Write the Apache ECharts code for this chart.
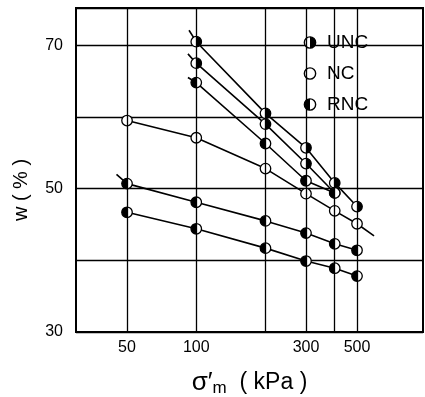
<!DOCTYPE html>
<html>
<head>
<meta charset="utf-8">
<script src="https://cdn.jsdelivr.net/npm/echarts@6/dist/echarts.min.js"></script>
<style>
  html, body { margin: 0; padding: 0; background: #fff; }
  #chart { width: 425px; height: 397px; }
</style>
</head>
<body>
<div id="chart"></div>
<script>
// confining pressure (kPa)
const pressures = [50, 100, 200, 300, 400, 500]
// water content w (%) for each curve, null = no point
const unc1 = [null, 70.5, 60.5, 55.7, 50.8, 47.5]
const unc2 = [null, 67.5, 59.0, 53.5, 49.4, null]
const rnc1 = [null, 64.8, 56.3, 51.1, 49.4, null]
const nc = [59.5, 57.1, 52.8, 49.3, 46.9, 45.1]
const rnc2 = [50.7, 48.1, 45.5, 43.8, 42.3, 41.4]
const rnc3 = [46.7, 44.4, 41.7, 39.9, 38.9, 37.8]
// short line ends without a marker
const unc1Lead = [93, 72.1]
const unc2Lead = [92, 68.8]
const rnc1Lead = [92, 65.5]
const rnc2Lead = [45, 52.0]
const ncTail = [593, 43.4]

const gridX = [50, 100, 200, 300, 400, 500]
const xLabels = ['50', '100', '300', '500']
const yLabels = [30, 50, 70]

function marker(side) {
  let half = ''
  if (side === 'right') half = "<path d='M13 2.5 A10.5 10.5 0 0 1 13 23.5 Z' fill='black'/>"
  if (side === 'left') half = "<path d='M13 2.5 A10.5 10.5 0 0 0 13 23.5 Z' fill='black'/>"
  const svg = "<svg xmlns='http://www.w3.org/2000/svg' width='26' height='26' viewBox='0 0 26 26'>" +
    "<circle cx='13' cy='13' r='10.5' fill='white' stroke='black' stroke-width='2.6'/>" + half + '</svg>'
  return 'image://data:image/svg+xml;charset=utf-8,' + encodeURIComponent(svg)
}

const icons = { UNC: marker('right'), NC: marker('none'), RNC: marker('left') }

function buildData(values, lead, tail) {
  const data = []
  if (lead) data.push({ value: lead, symbol: 'none' })
  values.forEach((v, i) => { if (v != null) data.push([pressures[i], v]) })
  if (tail) data.push({ value: tail, symbol: 'none' })
  return data
}

function lineSeries(name, values, lead, tail) {
  return {
    name: name,
    type: 'line',
    data: buildData(values, lead, tail),
    symbol: icons[name],
    symbolSize: 13,
    showSymbol: true,
    color: '#000',
    lineStyle: { color: '#000', width: 1.6 },
    z: 3
  }
}

const series = [
  lineSeries('UNC', unc1, unc1Lead),
  lineSeries('UNC', unc2, unc2Lead),
  lineSeries('RNC', rnc1, rnc1Lead),
  lineSeries('NC', nc, null, ncTail),
  lineSeries('RNC', rnc2, rnc2Lead),
  lineSeries('RNC', rnc3)
]

// vertical grid lines with the x tick labels under them
series[5].markLine = {
  silent: true,
  symbol: 'none',
  animation: false,
  lineStyle: { color: '#000', width: 1.3, type: 'solid' },
  label: {
    position: 'start',
    distance: 8,
    color: '#000',
    fontSize: 16,
    fontFamily: 'Liberation Sans',
    formatter: p => (xLabels.includes(String(p.value)) ? String(p.value) : '')
  },
  data: gridX.map(x => ({ xAxis: x }))
}

const chart = echarts.init(document.getElementById('chart'))
chart.setOption({
  animation: false,
  backgroundColor: '#fff',
  grid: {
    left: 76, right: 2, top: 8, bottom: 65,
    outerBoundsMode: 'none',
    containLabel: false,
    show: true, borderColor: '#000', borderWidth: 2, backgroundColor: 'transparent'
  },
  legend: {
    orient: 'vertical',
    left: 298,
    top: 28,
    itemWidth: 14,
    itemHeight: 14,
    itemGap: 12,
    textStyle: { fontSize: 19, color: '#000', fontFamily: 'Liberation Sans', padding: [0, 0, 0, 5] },
    data: ['UNC', 'NC', 'RNC'].map(n => ({ name: n, icon: icons[n] }))
  },
  xAxis: {
    type: 'log',
    logBase: 10,
    min: 30,
    max: 968,
    axisLine: { show: true, lineStyle: { color: '#000', width: 2 } },
    axisTick: { show: false },
    axisLabel: { show: false },
    splitLine: { show: false },
    name: '{s|σ′}{m|m}{n|  ( kPa )}',
    nameLocation: 'middle',
    nameGap: 36,
    nameTextStyle: {
      rich: {
        s: { fontSize: 26, color: '#000', fontFamily: 'Liberation Sans' },
        m: { fontSize: 17, color: '#000', fontFamily: 'Liberation Sans', padding: [12, 0, 0, 0] },
        n: { fontSize: 23, color: '#000', fontFamily: 'Liberation Sans' }
      }
    }
  },
  yAxis: {
    type: 'value',
    min: 30,
    max: 75.2,
    interval: 10,
    axisLine: { show: true, lineStyle: { color: '#000', width: 2 } },
    axisTick: { show: false },
    axisLabel: {
      color: '#000',
      fontSize: 16,
      fontFamily: 'Liberation Sans',
      margin: 13,
      formatter: v => (yLabels.includes(v) ? String(v) : '')
    },
    splitLine: { show: true, lineStyle: { color: '#000', width: 1.3 } },
    name: 'w ( % )',
    nameLocation: 'middle',
    nameGap: 45,
    nameTextStyle: { fontSize: 20, color: '#000', fontFamily: 'Liberation Sans', padding: [0, 40, 0, 0] }
  },
  series: series
})
</script>
</body>
</html>
